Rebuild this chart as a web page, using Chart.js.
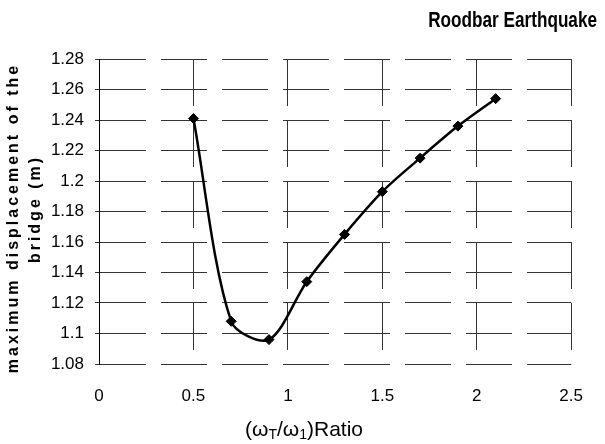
<!DOCTYPE html>
<html lang="en">
<head>
    <meta charset="UTF-8">
    <title>Roodbar Earthquake</title>
    <script src="https://cdn.jsdelivr.net/npm/chart.js"></script>
    <style>
        html, body {
            margin: 0;
            padding: 0;
            background: #fff;
        }
        .chart-container {
            position: relative;
            width: 605px;
            height: 444px;
        }
    </style>
</head>
<body>
    <div class="chart-container">
        <canvas id="bridgeChart"></canvas>
    </div>

    <script>
        // frequency ratio (wT/w1) and max bridge displacement (m)
        const ratios = [0.5, 0.7, 0.9, 1.1, 1.3, 1.5, 1.7, 1.9, 2.1];
        const displacement = [1.241, 1.108, 1.096, 1.134, 1.165, 1.193, 1.215, 1.236, 1.254];

        const xTicks = [0, 0.5, 1, 1.5, 2, 2.5];
        const yTicks = [1.08, 1.1, 1.12, 1.14, 1.16, 1.18, 1.2, 1.22, 1.24, 1.26, 1.28];

        const chartTitle = 'Roodbar Earthquake';
        const yTitle = ['maximum displacement of the', 'bridge (m)'];

        const font = '"Liberation Sans", Arial, sans-serif';

        // titles drawn by hand: narrow title, letter spacing on y, subscripts on x
        const axisTitles = {
            id: 'axisTitles',
            afterDraw(chart) {
                const ctx = chart.ctx;
                ctx.save();
                ctx.fillStyle = '#000';
                ctx.textBaseline = 'middle';

                // chart title, squeezed like Arial Narrow
                ctx.save();
                ctx.font = 'bold 22px ' + font;
                ctx.textAlign = 'right';
                ctx.translate(597, 21);
                ctx.scale(0.78, 1);
                ctx.fillText(chartTitle, 0, 0);
                ctx.restore();

                // y title, two rotated lines
                ctx.textAlign = 'center';
                ctx.font = 'bold 16px ' + font;
                ctx.letterSpacing = '3px';
                const lineX = [14, 36];
                const lineY = [218, 209];
                yTitle.forEach((txt, i) => {
                    ctx.save();
                    ctx.translate(lineX[i], lineY[i]);
                    ctx.rotate(-Math.PI / 2);
                    ctx.fillText(txt, 0, 0);
                    ctx.restore();
                });
                ctx.letterSpacing = '0px';

                // x title: (wT/w1)Ratio with subscripts
                const big = '21px ' + font;
                const small = '14px ' + font;
                const parts = [
                    ['(\u03C9', big, 0],
                    ['T', small, 5],
                    ['/\u03C9', big, 0],
                    ['1', small, 5],
                    [')Ratio', big, 0]
                ];
                let total = 0;
                parts.forEach(p => { ctx.font = p[1]; total += ctx.measureText(p[0]).width; });
                let x = 304 - total / 2;
                ctx.textAlign = 'left';
                parts.forEach(p => {
                    ctx.font = p[1];
                    ctx.fillText(p[0], x, 430 + p[2]);
                    x += ctx.measureText(p[0]).width;
                });
                ctx.restore();
            }
        };

        const fmt = v => String(Number(v.toFixed(2)));

        new Chart(document.getElementById('bridgeChart'), {
            type: 'scatter',
            data: {
                datasets: [{
                    data: ratios.map((r, i) => ({x: r, y: displacement[i]})),
                    showLine: true,
                    borderColor: '#000',
                    borderWidth: 2.5,
                    tension: 0.3,
                    pointStyle: 'rectRot',
                    pointRadius: 5,
                    pointBackgroundColor: '#000',
                    pointBorderColor: '#000',
                    pointBorderWidth: 1
                }]
            },
            options: {
                responsive: true,
                maintainAspectRatio: false,
                animation: false,
                layout: {
                    padding: {left: 50, right: 13, top: 59, bottom: 0}
                },
                plugins: {
                    legend: {display: false},
                    tooltip: {enabled: false},
                    title: {display: false}
                },
                scales: {
                    x: {
                        type: 'linear',
                        min: 0,
                        max: 2.5,
                        afterBuildTicks: axis => { axis.ticks = xTicks.map(v => ({value: v})); },
                        afterFit: axis => { axis.height = 80; },
                        ticks: {
                            color: '#000',
                            font: {family: font, size: 17},
                            padding: 22,
                            callback: fmt
                        },
                        grid: {
                            color: '#333',
                            lineWidth: 1,
                            drawTicks: false
                        },
                        border: {display: false, dash: [47, 14]}
                    },
                    y: {
                        min: 1.08,
                        max: 1.28,
                        afterBuildTicks: axis => { axis.ticks = yTicks.map(v => ({value: v})); },
                        afterFit: axis => { axis.width = 49; },
                        ticks: {
                            color: '#000',
                            font: {family: font, size: 17},
                            padding: 11,
                            callback: fmt
                        },
                        grid: {
                            color: '#333',
                            lineWidth: 1,
                            tickLength: 4,
                            tickColor: '#333'
                        },
                        border: {display: true, color: '#000', width: 1, dash: [46, 15]}
                    }
                }
            },
            plugins: [axisTitles]
        });
    </script>
</body>
</html>
